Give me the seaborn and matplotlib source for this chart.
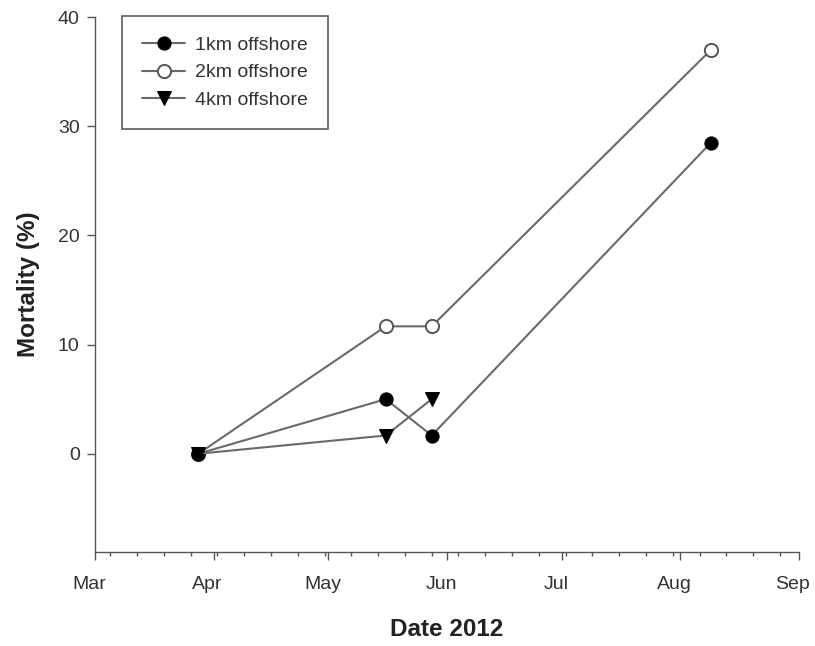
import matplotlib
matplotlib.use("Agg")
import matplotlib.pyplot as plt
import matplotlib.dates as mdates
import matplotlib.transforms as mtransforms
import seaborn as sns
import pandas as pd
import numpy as np

sns.set_style("ticks")
plt.rcParams['font.family'] = ['Liberation Sans', 'DejaVu Sans']

dates_1km = ["2012-03-28", "2012-05-16", "2012-05-28", "2012-08-09"]
mort_1km = [0.0, 5.0, 1.67, 28.5]
dates_2km = ["2012-03-28", "2012-05-16", "2012-05-28", "2012-08-09"]
mort_2km = [0.0, 11.67, 11.67, 37.0]
dates_4km = ["2012-03-28", "2012-05-16", "2012-05-28"]
mort_4km = [0.0, 1.67, 5.0]
labels = ["1km offshore", "2km offshore", "4km offshore"]

fig = plt.figure(figsize=(8.15, 6.46), dpi=100)
ax = fig.add_axes([95/815, 1-552/646, (799-95)/815, (552-17)/646])

series = [
    (dates_1km, mort_1km, labels[0], dict(marker="o", markerfacecolor="black", markeredgecolor="black", markersize=9.5, zorder=3)),
    (dates_2km, mort_2km, labels[1], dict(marker="o", markerfacecolor="white", markeredgecolor="#555555", markersize=9.5, markeredgewidth=1.4, zorder=2)),
    (dates_4km, mort_4km, labels[2], dict(marker="v", markerfacecolor="black", markeredgecolor="black", markersize=9.5, zorder=4)),
]
for d, m, lab, mk in series:
    df = pd.DataFrame({"date": pd.to_datetime(d), "mort": m})
    sns.lineplot(data=df, x="date", y="mort", ax=ax, color="#6a6a6a", linewidth=1.5,
                 label=lab, **mk)

ax.set_xlim(pd.Timestamp("2012-03-01"), pd.Timestamp("2012-09-01"))
ax.set_ylim(-9, 40)
ax.set_yticks([0, 10, 20, 30, 40])
ax.xaxis.set_major_locator(mdates.MonthLocator())
ax.xaxis.set_major_formatter(mdates.DateFormatter("%b"))
ax.xaxis.set_minor_locator(mdates.WeekdayLocator(byweekday=mdates.MO))

for s in ["top", "right"]:
    ax.spines[s].set_visible(False)
for s in ["left", "bottom"]:
    ax.spines[s].set_color("#555555")
    ax.spines[s].set_linewidth(1.0)
ax.tick_params(axis="both", which="major", direction="out", length=6, width=1,
               color="#555555", labelsize=14, labelcolor="#333333")
ax.tick_params(axis="x", which="major", pad=11)
ax.tick_params(axis="y", which="major", pad=5)
ax.tick_params(axis="x", which="minor", direction="out", length=3, width=1, color="#555555")

offset = mtransforms.ScaledTranslation(-6/100, 0, fig.dpi_scale_trans)
for lbl in ax.get_xticklabels():
    lbl.set_transform(lbl.get_transform() + offset)

ax.set_xlabel("Date 2012", fontsize=17.5, fontweight="bold", labelpad=18, color="#222222")
ax.set_ylabel("Mortality (%)", fontsize=17.5, fontweight="bold", labelpad=13, color="#222222")

leg = ax.legend(loc="upper left", bbox_to_anchor=(122/815, 1-16/646), bbox_transform=fig.transFigure,
                fontsize=14, frameon=True, fancybox=False, edgecolor="#333333",
                handlelength=2.2, borderpad=1.05, labelspacing=0.5, handletextpad=0.5,
                borderaxespad=0)
leg.get_frame().set_linewidth(1.2)
for t in leg.get_texts():
    t.set_color("#333333")

fig.savefig("out.png", dpi=100)
